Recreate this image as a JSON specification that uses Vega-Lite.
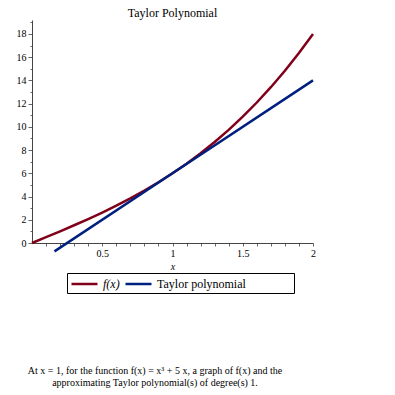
{
  "$schema": "https://vega.github.io/schema/vega-lite/v6.json",
  "padding": {"left": 16, "top": 7, "right": 5, "bottom": 5},
  "background": "white",
  "config": {
    "view": {"stroke": null},
    "font": "Liberation Serif",
    "axis": {"grid": false, "domainColor": "#444444", "tickColor": "#666666", "labelFont": "Liberation Serif", "labelFontSize": 10, "labelColor": "black", "titleFont": "Liberation Serif", "titleFontWeight": "normal", "titleColor": "black"}
  },
  "title": {
    "text": ["At x = 1, for the function f(x) = x³ + 5 x, a graph of f(x) and the", "approximating Taylor polynomial(s) of degree(s) 1."],
    "orient": "bottom",
    "anchor": "middle",
    "font": "Liberation Serif",
    "fontSize": 10,
    "fontWeight": "normal",
    "color": "black",
    "offset": 72,
    "dx": -12,
    "lineHeight": 12
  },
  "vconcat": [
    {
      "title": {"text": "Taylor Polynomial", "font": "Liberation Serif", "fontSize": 12, "fontWeight": "normal", "color": "black", "offset": -3, "anchor": "middle"},
      "width": 281,
      "height": 223,
      "data": {
        "values": [
          {"x": 0, "y": 0, "series": "f(x)"},
          {"x": 0.1, "y": 0.501, "series": "f(x)"},
          {"x": 0.2, "y": 1.008, "series": "f(x)"},
          {"x": 0.3, "y": 1.527, "series": "f(x)"},
          {"x": 0.4, "y": 2.064, "series": "f(x)"},
          {"x": 0.5, "y": 2.625, "series": "f(x)"},
          {"x": 0.6, "y": 3.216, "series": "f(x)"},
          {"x": 0.7, "y": 3.843, "series": "f(x)"},
          {"x": 0.8, "y": 4.512, "series": "f(x)"},
          {"x": 0.9, "y": 5.229, "series": "f(x)"},
          {"x": 1.0, "y": 6, "series": "f(x)"},
          {"x": 1.1, "y": 6.831, "series": "f(x)"},
          {"x": 1.2, "y": 7.728, "series": "f(x)"},
          {"x": 1.3, "y": 8.697, "series": "f(x)"},
          {"x": 1.4, "y": 9.744, "series": "f(x)"},
          {"x": 1.5, "y": 10.875, "series": "f(x)"},
          {"x": 1.6, "y": 12.096, "series": "f(x)"},
          {"x": 1.7, "y": 13.413, "series": "f(x)"},
          {"x": 1.8, "y": 14.832, "series": "f(x)"},
          {"x": 1.9, "y": 16.359, "series": "f(x)"},
          {"x": 2.0, "y": 18, "series": "f(x)"},
          {"x": 0.16, "y": -0.72, "series": "Taylor polynomial"},
          {"x": 1.0, "y": 6, "series": "Taylor polynomial"},
          {"x": 2.0, "y": 14, "series": "Taylor polynomial"}
        ]
      },
      "mark": {"type": "line", "strokeWidth": 2.5, "clip": false},
      "encoding": {
        "x": {
          "field": "x", "type": "quantitative",
          "scale": {"domain": [0, 2], "nice": false, "zero": false},
          "axis": {
            "title": "x", "titleFontStyle": "italic", "titleFontSize": 10, "titlePadding": 3,
            "values": [0.1,0.2,0.3,0.4,0.5,0.6,0.7,0.8,0.9,1,1.1,1.2,1.3,1.4,1.5,1.6,1.7,1.8,1.9,2],
            "labelExpr": "abs(datum.value*2 - round(datum.value*2)) < 0.001 ? toString(round(datum.value*2)/2) : ''",
            "tickSize": 3, "labelPadding": 2, "labelFlush": false, "labelOverlap": false
          }
        },
        "y": {
          "field": "y", "type": "quantitative",
          "scale": {"domain": [0, 19.2], "nice": false, "zero": false},
          "axis": {
            "title": null,
            "values": [0,1,2,3,4,5,6,7,8,9,10,11,12,13,14,15,16,17,18,19],
            "labelExpr": "datum.value % 2 == 0 ? datum.label : ''",
            "tickSize": {"condition": {"test": "datum.value % 2 == 0", "value": 4}, "value": 2},
            "labelPadding": 2, "labelOverlap": false
          }
        },
        "color": {
          "field": "series", "type": "nominal",
          "scale": {"domain": ["f(x)", "Taylor polynomial"], "range": ["#80001a", "#00207f"]},
          "legend": {
            "title": null,
            "orient": "none",
            "legendX": 35,
            "legendY": 253,
            "direction": "horizontal",
            "symbolType": "M-1,0L3,0",
            "symbolSize": 169,
            "symbolStrokeWidth": 2.5,
            "labelFont": "Liberation Serif",
            "labelFontSize": 12,
            "labelColor": "black",
            "labelOffset": 17,
            "columnPadding": 0,
            "strokeColor": "black",
            "padding": 3,
            "labelLimit": 300,
            "encode": {"labels": {"update": {
              "fontStyle": {"signal": "datum.value == 'f(x)' ? 'italic' : 'normal'"},
              "text": {"signal": "datum.value == 'Taylor polynomial' ? datum.label + '\u2800\u2800\u2800\u2800\u2800' : datum.label"}
            }}}
          }
        }
      }
    }
  ]
}
